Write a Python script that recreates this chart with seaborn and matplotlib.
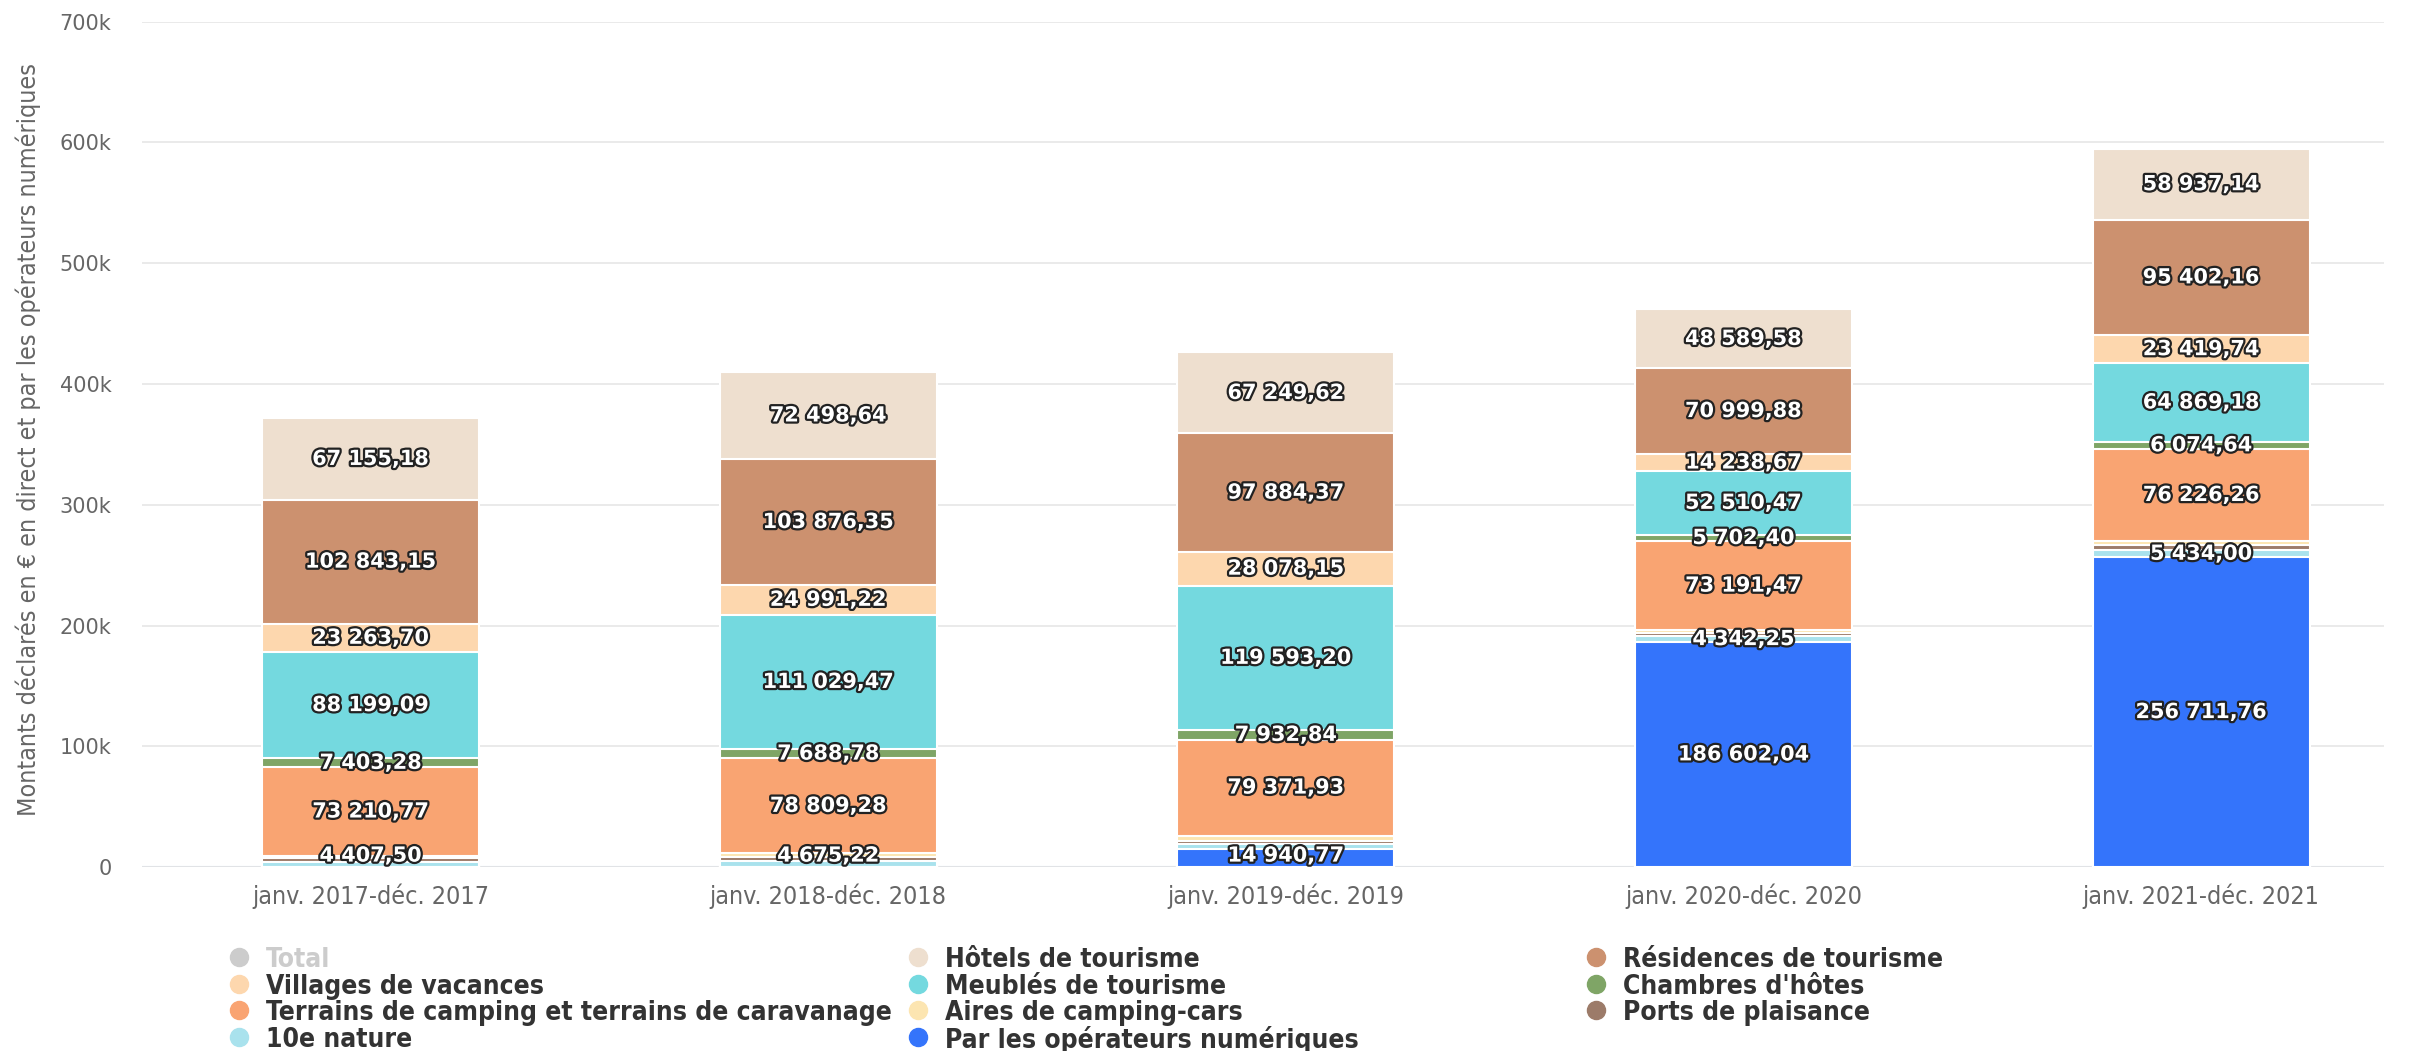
import matplotlib
matplotlib.use("Agg")
import matplotlib.pyplot as plt
import matplotlib.patheffects as pe
from matplotlib.lines import Line2D
import seaborn as sns
import pandas as pd
import numpy as np

sns.set_theme(style="white")
plt.rcParams['font.family'] = ['DejaVu Sans']

categories = ["janv. 2017-déc. 2017", "janv. 2018-déc. 2018", "janv. 2019-déc. 2019",
              "janv. 2020-déc. 2020", "janv. 2021-déc. 2021"]

# series listed bottom -> top of the stack
operateurs = [0, 0, 14940.77, 186602.04, 256711.76]
dixe_nature = [4407.50, 4675.22, 3800, 4342.25, 5434.00]
ports = [3500, 3600, 3200, 2500, 4200]
aires = [1500, 3000, 4200, 3000, 3600]
terrains = [73210.77, 78809.28, 79371.93, 73191.47, 76226.26]
chambres = [7403.28, 7688.78, 7932.84, 5702.40, 6074.64]
meubles = [88199.09, 111029.47, 119593.20, 52510.47, 64869.18]
villages = [23263.70, 24991.22, 28078.15, 14238.67, 23419.74]
residences = [102843.15, 103876.35, 97884.37, 70999.88, 95402.16]
hotels = [67155.18, 72498.64, 67249.62, 48589.58, 58937.14]

series = [
    ("Par les opérateurs numériques", operateurs, "#3474FB"),
    ("10e nature", dixe_nature, "#A9E2ED"),
    ("Ports de plaisance", ports, "#9C7B69"),
    ("Aires de camping-cars", aires, "#FCE5B1"),
    ("Terrains de camping et terrains de caravanage", terrains, "#F9A472"),
    ("Chambres d'hôtes", chambres, "#7FA566"),
    ("Meublés de tourisme", meubles, "#74D9DF"),
    ("Villages de vacances", villages, "#FDD7AE"),
    ("Résidences de tourisme", residences, "#CC916F"),
    ("Hôtels de tourisme", hotels, "#EEDFCF"),
]

legend_columns = [
    ["Total", "Villages de vacances", "Terrains de camping et terrains de caravanage", "10e nature"],
    ["Hôtels de tourisme", "Meublés de tourisme", "Aires de camping-cars", "Par les opérateurs numériques"],
    ["Résidences de tourisme", "Chambres d'hôtes", "Ports de plaisance"],
]

label_threshold = 4300

W, H = 2415, 1051
fig = plt.figure(figsize=(W / 100, H / 100), dpi=100)
ax = fig.add_axes([0.0588, 0.175, 0.9282, 0.8044])

cums = []
running = np.zeros(len(categories))
for name, vals, col in series:
    bottom = running.copy()
    running = running + np.array(vals, dtype=float)
    cums.append((name, bottom, running.copy(), vals, col))

for name, bottom, top, vals, col in reversed(cums):
    df = pd.DataFrame({"cat": categories, "val": top})
    sns.barplot(data=df, x="cat", y="val", color=col, width=0.474, ax=ax,
                edgecolor="white", linewidth=1.5, saturation=1, errorbar=None)

min_center = 9500
for name, bottom, top, vals, col in cums:
    for i, v in enumerate(vals):
        if v >= label_threshold:
            yc = max((bottom[i] + top[i]) / 2, min_center)
            s = f"{v:,.2f}".replace(",", " ").replace(".", ",")
            ax.text(i, yc, s, ha="center", va="center", fontsize=15, fontweight="bold",
                    color="white", zorder=10,
                    path_effects=[pe.withStroke(linewidth=3.2, foreground="#222222")])

ax.set_ylim(0, 700000)
ax.set_xlim(-0.4996, 4.3987)
ax.set_yticks(np.arange(0, 700001, 100000))
ax.set_yticklabels(["0"] + [f"{k}k" for k in range(100, 701, 100)], fontsize=15, color="#666666")
ax.tick_params(axis="y", length=0, pad=22)
ax.tick_params(axis="x", length=0, pad=12)
for lab in ax.get_xticklabels():
    lab.set_fontstretch("condensed")
    lab.set_fontsize(18)
    lab.set_color("#666666")

ax.grid(axis="y", color="#e6e6e6", linewidth=1.2)
ax.set_axisbelow(True)
for sp in ax.spines.values():
    sp.set_visible(False)
ax.axhline(0, color="#ccd6eb", linewidth=1.5, zorder=0.5)
ax.set_xlabel("")
ax.set_ylabel("")
fig.text(0.0116, 0.582, "Montants déclarés en € en direct et par les opérateurs numériques",
         rotation=90, ha="center", va="center", fontsize=18, color="#666666",
         fontstretch="condensed")

# legend drawn manually in figure pixel positions
col_of = {name: col for name, v, col in series}
marker_x = [239, 918, 1596]
row_y0, row_dy = 957, 26.6
for ci, names in enumerate(legend_columns):
    for ri, n in enumerate(names):
        c = "#cccccc" if n == "Total" else col_of[n]
        ypx = row_y0 + ri * row_dy
        fy = 1 - ypx / H
        fig.add_artist(Line2D([marker_x[ci] / W], [fy], marker="o", linestyle="none",
                              markersize=13, markerfacecolor=c, markeredgecolor=c,
                              transform=fig.transFigure))
        fig.text((marker_x[ci] + 27) / W, fy, n, ha="left", va="center_baseline",
                 fontsize=19, fontweight="bold", fontstretch="condensed",
                 color="#cccccc" if n == "Total" else "#333333")

fig.savefig("out.png", dpi=100)
